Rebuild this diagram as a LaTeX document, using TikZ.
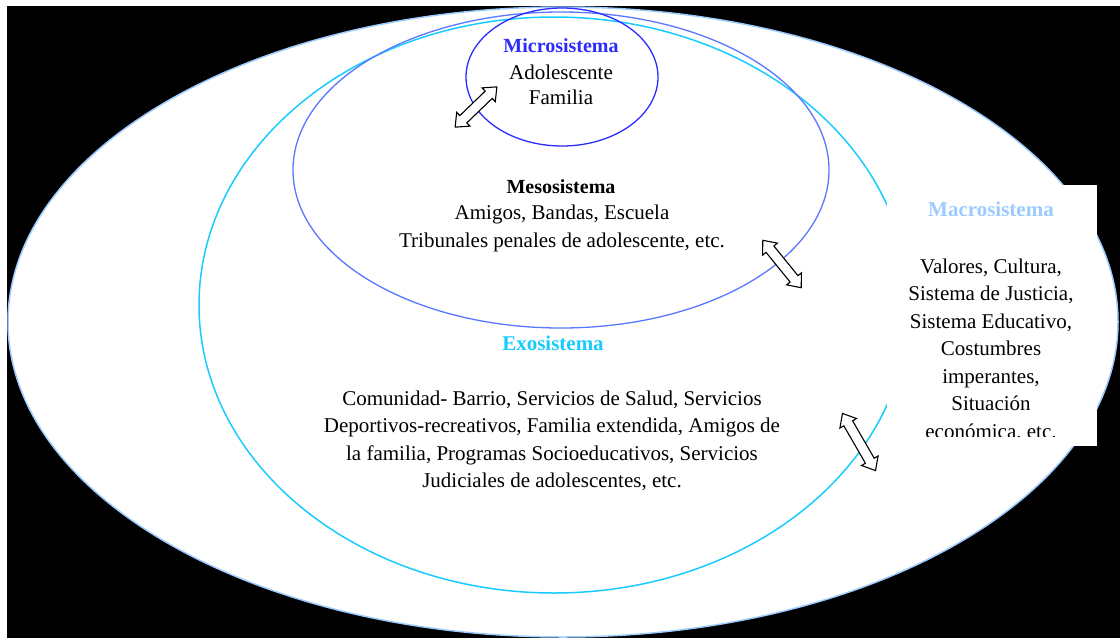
\documentclass[tikz,border=0pt]{standalone}
\usepackage{fontspec}
\setmainfont{Liberation Serif}
\usetikzlibrary{shapes.arrows}
\definecolor{microcol}{HTML}{2B2BFF}
\definecolor{mesocol}{HTML}{5A78FF}
\definecolor{exocol}{HTML}{19CCFF}
\definecolor{macrocol}{HTML}{9CCBFF}
\tikzset{
  txt/.style={font=\fontsize{21}{27.5}\selectfont, align=center, inner sep=0},
  ttl/.style={txt, font=\fontsize{20}{27.5}\selectfont\bfseries},
  bigttl/.style={txt, font=\fontsize{21}{27.5}\selectfont\bfseries},
  dblarr/.style={double arrow, draw=black, fill=white, line width=1.1pt,
    inner xsep=0, inner ysep=4.5, double arrow head extend=4.5, double arrow tip angle=80}
}
\begin{document}
\begin{tikzpicture}[x=1pt,y=-1pt]
\useasboundingbox (0,0) rectangle (1120,638);
\fill[white] (0,0) rectangle (1120,638);
\fill[black] (7,6) rectangle (1120,638);
\draw[macrocol, fill=white, line width=1.5] (563,322) ellipse [x radius=555, y radius=315];
\draw[exocol, line width=1.5] (554,305) ellipse [x radius=355, y radius=288];
\draw[mesocol, line width=1.3] (561,170) ellipse [x radius=268, y radius=158];
\draw[microcol, line width=1.3] (562,77) ellipse [x radius=96, y radius=69];
\fill[white] (887,185) rectangle (1097,446);
\node[ttl, microcol] (micT) at (561,46) {Microsistema};
\node[txt] (micA) at (561,72) {Adolescente};
\node[txt] (micB) at (561,97) {Familia};
\node[ttl] (mesT) at (561,187) {Mesosistema};
\node[txt] (mesA) at (562,214) {Amigos, Bandas, Escuela};
\node[txt] (mesB) at (562,242) {Tribunales penales de adolescente, etc.};
\node[bigttl, exocol] (exoT) at (553,343) {Exosistema};
\node[txt] (exoA) at (552,441) {Comunidad- Barrio, Servicios de Salud, Servicios\\
  Deportivos-recreativos, Familia extendida, Amigos de\\
  la familia, Programas Socioeducativos, Servicios\\
  Judiciales de adolescentes, etc.};
\node[bigttl, macrocol] (macT) at (991,209) {Macrosistema};
\begin{scope}
\clip (887,185) rectangle (1097,436);
\node[txt] (macA) at (991,350) {Valores, Cultura,\\ Sistema de Justicia,\\ Sistema Educativo,\\
  Costumbres\\ imperantes,\\ Situación\\ económica, etc.};
\end{scope}
\node[dblarr, rotate=44, minimum height=58] (ar1) at (476,107) {};
\node[dblarr, rotate=-51, minimum height=61] (ar2) at (782,264) {};
\node[dblarr, rotate=-60, minimum height=66] (ar3) at (859,442) {};
\end{tikzpicture}
\end{document}
